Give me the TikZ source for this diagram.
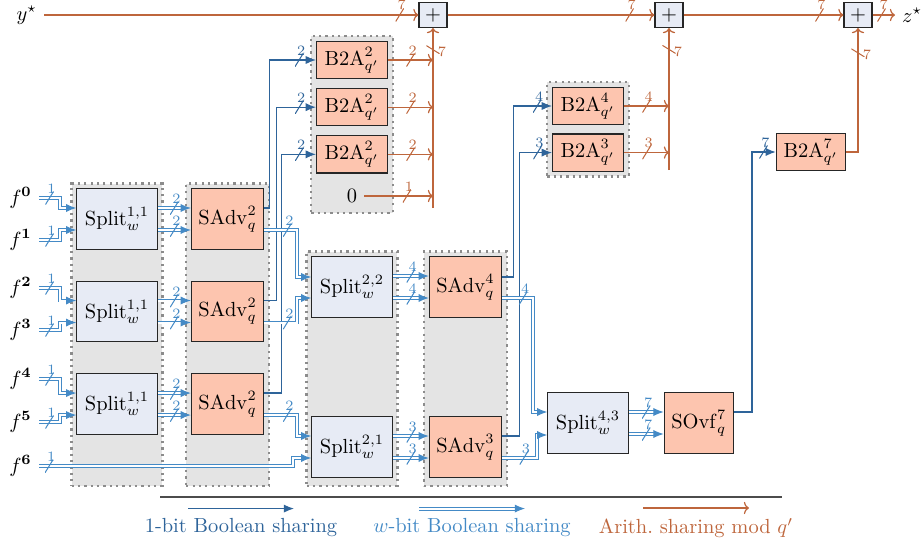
\documentclass[tikz,border=0pt]{standalone}
\usepackage{amsmath}
\usepackage{amssymb}
\usepackage{tikz}
\usetikzlibrary{arrows.meta, positioning, calc, fit, backgrounds}
\definecolor{cOne}{RGB}{46,100,154}
\definecolor{cWide}{RGB}{68,138,198}
\definecolor{cArith}{RGB}{190,102,60}
\definecolor{cSplit}{RGB}{231,235,245}
\definecolor{cAdv}{RGB}{253,197,175}
\definecolor{cGroup}{RGB}{228,228,228}
\tikzset{
	splitb/.style ={rectangle, draw=black!85, line width=0.6pt, fill=cSplit, minimum width=1.38cm, minimum height=1.04cm, inner sep=1pt, align=center},
	advb/.style   ={rectangle, draw=black!85, line width=0.6pt, fill=cAdv, minimum width=1.24cm, minimum height=1.04cm, inner sep=1pt, align=center},
	b2ab/.style   ={advb, minimum width=1.22cm, minimum height=0.64cm},
	sumj/.style   ={rectangle, draw=black!85, line width=0.6pt, fill=cSplit, minimum width=0.48cm, minimum height=0.43cm, inner sep=0pt},
	grp/.style    ={rectangle, fill=cGroup, draw=black!45, dotted, line width=1.1pt, inner sep=0.08cm},
	% wire styles
	onebit/.style ={color=cOne, line width=0.55pt, -{Latex[length=5pt,width=4pt]}},
	wbit/.style   ={color=cWide, line width=0.45pt, double=white, double distance=1pt, -{Latex[length=5pt,width=4pt]}},
	arith/.style  ={color=cArith, line width=0.6pt, -{To[length=2.5pt,width=6pt]}},
	% bus width markers
	hbus/.style   ={inner sep=0pt, minimum width=4pt, minimum height=6.5pt,
		path picture={\draw[-, line width=0.5pt] (path picture bounding box.south west) -- (path picture bounding box.north east);},
		label={[font=\scriptsize, inner sep=0pt, xshift=1pt, yshift=-1.5pt]above:#1}},
	vbus/.style   ={inner sep=0pt, minimum width=6.5pt, minimum height=4pt,
		path picture={\draw[-, line width=0.5pt] (path picture bounding box.north west) -- (path picture bounding box.south east);},
		label={[font=\scriptsize, inner sep=0pt, xshift=-1.5pt, yshift=-1pt]right:#1}},
}
\begin{document}
\begin{tikzpicture}[x=0.0172cm, y=-0.0172cm, node distance=0.53cm]
	\useasboundingbox (0,0) rectangle (923,544);
	% accumulation line
	\node[anchor=east] (ys) at (44,15) {$y^\star$};
	\node[sumj] (p1) at (433,15) {$+$};
	\node[sumj] (p2) at (669,15) {$+$};
	\node[sumj] (p3) at (858,15) {$+$};
	\node[anchor=west] (zs) at (895,15) {$z^\star$};
	% inputs
	\foreach \i/\y in {0/198,1/240,2/288,3/330,4/379,5/422,6/466}
		\node[anchor=east] (f\i) at (39,\y) {$f^{\mathbf{\i}}$};
	% first stage
	\node[splitb] (s1) at (117,219) {$\mathrm{Split}^{1,1}_{w}$};
	\node[splitb, below=of s1] (s2) {$\mathrm{Split}^{1,1}_{w}$};
	\node[splitb, below=of s2] (s3) {$\mathrm{Split}^{1,1}_{w}$};
	\node[advb, right=0.57cm of s1] (a1) {$\mathrm{SAdv}^{2}_{q}$};
	\node[advb, right=0.57cm of s2] (a2) {$\mathrm{SAdv}^{2}_{q}$};
	\node[advb, right=0.57cm of s3] (a3) {$\mathrm{SAdv}^{2}_{q}$};
	% second stage
	\node[splitb] (t2) at (352,287) {$\mathrm{Split}^{2,2}_{w}$};
	\node[splitb] (t1) at (352,447) {$\mathrm{Split}^{2,1}_{w}$};
	\node[advb, right=0.62cm of t2] (c4) {$\mathrm{SAdv}^{4}_{q}$};
	\node[advb, right=0.62cm of t1] (c3) {$\mathrm{SAdv}^{3}_{q}$};
	% third stage
	\node[splitb] (u) at (588,423) {$\mathrm{Split}^{4,3}_{w}$};
	\node[advb, right=0.6cm of u, minimum width=1.19cm] (ovf) {$\mathrm{SOvf}^{7}_{q}$};
	% conversions
	\node[b2ab] (b1) at (352,60) {$\mathrm{B2A}^{2}_{q'}$};
	\node[b2ab, below=0.15cm of b1] (b2) {$\mathrm{B2A}^{2}_{q'}$};
	\node[b2ab, below=0.15cm of b2] (b3) {$\mathrm{B2A}^{2}_{q'}$};
	\node (zero) at (352,196) {$0$};
	\node[b2ab] (b4) at (588,106) {$\mathrm{B2A}^{4}_{q'}$};
	\node[b2ab, below=0.14cm of b4] (b3q) {$\mathrm{B2A}^{3}_{q'}$};
	\node[b2ab, minimum width=1.19cm] (b7) at (811,152) {$\mathrm{B2A}^{7}_{q'}$};
	% grey groups
	\begin{scope}[on background layer]
		\coordinate (gbot) at (0,481);
		\coordinate (zbot) at (0,208);
		\node[grp, fit=(s1)(s3)(s3.south |- gbot)] (g1) {};
		\node[grp, fit=(a1)(a3)(a3.south |- gbot)] (g2) {};
		\node[grp, fit=(t2)(t1)(t1.south |- gbot)] (g3) {};
		\node[grp, fit=(c4)(c3)(c3.south |- gbot)] (g4) {};
		\node[grp, fit=(b1)(b3)(b3.south |- zbot)] (g5) {};
		\node[grp, fit=(b4)(b3q)] (g6) {};
	\end{scope}
	% inputs into first splits
	\foreach \i/\sp/\d in {0/s1/-11, 1/s1/11, 2/s2/-11, 3/s2/11, 4/s3/-11, 5/s3/11}
		\draw[wbit] (f\i.east) -- node[hbus=1] {} ++(21,0) |- ($(\sp.west)+(0,\d)$);
	\draw[wbit] (f6.east) -- node[pos=0.04, hbus=1] {} ++(254,0) |- ($(t1.west)+(0,11)$);
	% split -> SAdv
	\foreach \sp/\ad/\n in {s1/a1/2, s2/a2/2, s3/a3/2, t2/c4/4, t1/c3/3, u/ovf/7} {
		\draw[wbit] ($(\sp.east)+(0,-11)$) -- node[hbus=\n] {} ($(\ad.west)+(0,-11)$);
		\draw[wbit] ($(\sp.east)+(0,11)$) -- node[hbus=\n] {} ($(\ad.west)+(0,11)$);
	}
	% SAdv -> B2A
	\draw[onebit] ($(a1.east)+(0,-11)$) -- ++(5,0) |- node[pos=0.82, hbus=2] {} (b1.west);
	\draw[onebit] ($(a2.east)+(0,-11)$) -- ++(12,0) |- node[pos=0.79, hbus=2] {} (b2.west);
	\draw[onebit] ($(a3.east)+(0,-11)$) -- ++(17,0) |- node[pos=0.76, hbus=2] {} (b3.west);
	\draw[onebit] ($(c4.east)+(0,-10)$) -- ++(11,0) |- node[pos=0.81, hbus=4] {} (b4.west);
	\draw[onebit] ($(c3.east)+(0,-11)$) -- ++(17,0) |- node[pos=0.78, hbus=3] {} (b3q.west);
	\draw[onebit] ($(ovf.east)+(0,-11)$) -- ++(18,0) |- node[pos=0.74, hbus=7] {} (b7.west);
	% SAdv -> next splits
	\draw[wbit] ($(a1.east)+(0,11)$) -- node[pos=0.7, hbus=2] {} ++(33,0) |- ($(t2.west)+(0,-10)$);
	\draw[wbit] ($(a2.east)+(0,11)$) -- node[pos=0.7, hbus=2] {} ++(33,0) |- ($(t2.west)+(0,11)$);
	\draw[wbit] ($(a3.east)+(0,11)$) -- node[pos=0.7, hbus=2] {} ++(33,0) |- ($(t1.west)+(0,-11)$);
	\draw[wbit] ($(c4.east)+(0,11)$) -- node[pos=0.68, hbus=4] {} ++(31,0) |- ($(u.west)+(0,-11)$);
	\draw[wbit] ($(c3.east)+(0,11)$) -- node[pos=0.62, hbus=3] {} ++(35,0) |- ($(u.west)+(0,12)$);
	% arithmetic sums
	\coordinate (v1) at (p1 |- 0,208);
	\coordinate (v2) at (p2 |- 0,170);
	\draw[arith] (v1) -- node[pos=0.88, vbus=7] {} (p1.south);
	\draw[arith] (v2) -- node[pos=0.85, vbus=7] {} (p2.south);
	\foreach \bx/\n in {b1/2, b2/2, b3/2}
		\draw[arith] (\bx.east) -- node[hbus=\n] {} (\bx.east -| v1);
	\draw[arith] (zero.east) -- node[pos=0.62, hbus=1] {} (zero.east -| v1);
	\foreach \bx/\n in {b4/4, b3q/3}
		\draw[arith] (\bx.east) -- node[hbus=\n] {} (\bx.east -| v2);
	\draw[arith] (b7.east) -| node[pos=0.9, vbus=7] {} (p3.south);
	\draw[arith] (ys.east) -- node[pos=0.95, hbus=7] {} (p1.west);
	\draw[arith] (p1.east) -- node[pos=0.88, hbus=7] {} (p2.west);
	\draw[arith] (p2.east) -- node[pos=0.85, hbus=7] {} (p3.west);
	\draw[arith] (p3.east) -- node[pos=0.4, hbus=7] {} (zs.west);
	% legend
	\draw[black!70, line width=0.7pt] (160,497) -- (782,497);
	\node[text=cOne] (l1) at (241,528) {1-bit Boolean sharing};
	\node[text=cWide] (l2) at (472,528) {$w$-bit Boolean sharing};
	\node[text=cArith] (l3) at (696,528) {Arith.\ sharing mod $q'$};
	\draw[onebit] ($(l1.north)+(-53,-3)$) -- ($(l1.north)+(53,-3)$);
	\draw[wbit] ($(l2.north)+(-53,-3)$) -- ($(l2.north)+(53,-3)$);
	\draw[arith] ($(l3.north)+(-53,-3)$) -- ($(l3.north)+(53,-3)$);
\end{tikzpicture}
\end{document}
